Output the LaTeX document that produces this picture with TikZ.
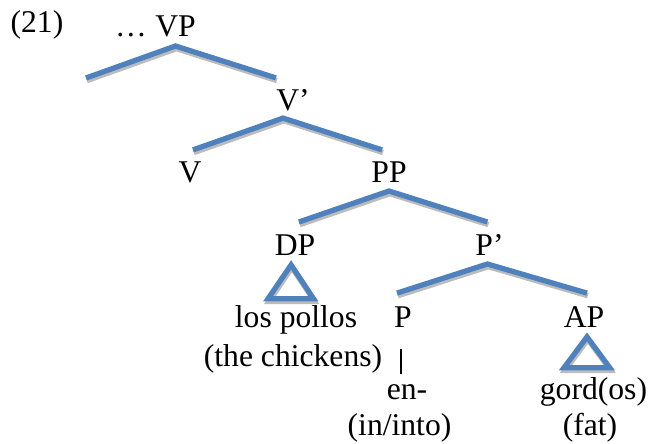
\documentclass[tikz,border=0pt]{standalone}
\usepackage{fontspec}
\setmainfont{Liberation Serif}
\usepackage{tikz}
\usetikzlibrary{positioning, calc}
\definecolor{treeblue}{RGB}{79,129,189}
\definecolor{treeshadow}{RGB}{188,188,188}

\begin{document}
\begin{tikzpicture}[font=\fontsize{30}{36}\selectfont,
  lbl/.style={inner sep=0pt, anchor=base},
  branch/.style={treeblue, line width=5pt,
    preaction={draw=treeshadow, line width=5pt, transform canvas={shift={(0.03,-0.09)}}}},
  stem/.style={black, line width=1.8pt}]
  \useasboundingbox (0,0) rectangle (21.6,-14.767);
  % Example number and top node
  \node[lbl] (ex) at (1.233,-1.1) {(21)};
  \node[lbl] (vp) at (5.85,-1.233) {VP};
  \node[lbl, left=0.27cm of vp.base west, anchor=base east] (dots) {…};
  \coordinate (vpleft) at (2.867,-2.6);
  % Category labels
  \node[lbl] (vbar) at (9.767,-3.667) {V’};
  \node[lbl] (v) at (6.333,-6.067) {V};
  \node[lbl] (pp) at (12.967,-6.067) {PP};
  \node[lbl] (dp) at (9.833,-8.5) {DP};
  \node[lbl] (pbar) at (16.317,-8.5) {P’};
  \node[lbl] (p) at (13.433,-10.9) {P};
  \node[lbl] (ap) at (19.467,-10.9) {AP};
  % Words and glosses
  \node[lbl] (lospollos) at (9.867,-10.933) {los pollos};
  \node[lbl] (chickens) at (9.767,-12.2) {(the chickens)};
  \node[lbl] (en) at (13.567,-13.333) {en-};
  \node[lbl] (into) at (13.317,-14.5) {(in/into)};
  \node[lbl] (gord) at (19.783,-13.333) {gord(os)};
  \node[lbl] (fat) at (19.667,-14.5) {(fat)};
  % Branches
  \draw[branch] (vpleft) -- ([yshift=-0.3cm]vp.base) -- ([xshift=-0.57cm,yshift=1.07cm]vbar.base);
  \draw[branch] ([xshift=0.1cm,yshift=1.07cm]v.base) -- ([xshift=-0.33cm,yshift=-0.27cm]vbar.base) -- ([xshift=-0.23cm,yshift=1.07cm]pp.base);
  \draw[branch] ([xshift=0.13cm,yshift=1.1cm]dp.base) -- ([yshift=-0.3cm]pp.base) -- ([xshift=-0.07cm,yshift=1.1cm]pbar.base);
  \draw[branch] ([xshift=-0.2cm,yshift=1.13cm]p.base) -- ([xshift=-0.07cm,yshift=-0.3cm]pbar.base) -- ([xshift=0.1cm,yshift=1.13cm]ap.base);
  % Triangles and the head stem
  \draw[branch] ([xshift=-0.13cm,yshift=-0.33cm]dp.base) -- ++(-0.77,-1.13) -- ++(1.52,0) -- cycle;
  \draw[branch] ([xshift=0.1cm,yshift=-0.33cm]ap.base) -- ++(-0.77,-1.03) -- ++(1.53,0) -- cycle;
  \draw[stem] ([xshift=-0.07cm,yshift=-0.73cm]p.base) -- ($(p.base |- en.base)+(-0.07,0.87)$);
\end{tikzpicture}
\end{document}
